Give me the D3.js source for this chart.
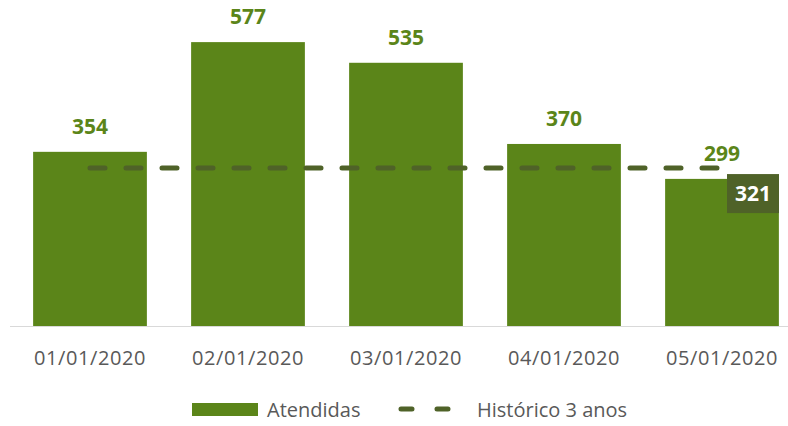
<!DOCTYPE html>
<html>
<head>
<meta charset="utf-8">
<script src="https://cdn.jsdelivr.net/npm/d3@7"></script>
<style>
  body { margin: 0; background: #fff; }
  svg { display: block; font-family: "Open Sans", Lato, sans-serif; }
</style>
</head>
<body>
<div id="chart"></div>
<script>
// chart data
var categories = ["01/01/2020", "02/01/2020", "03/01/2020", "04/01/2020", "05/01/2020"];
var atendidas = [354, 577, 535, 370, 299];
var historico = [321, 321, 321, 321, 321];
var legendLabels = ["Atendidas", "Histórico 3 anos"];

var width = 788, height = 426;
var barColor = "#5b8519";
var lineColor = "#4f6228";
var textColor = "#595959";

var svg = d3.select("#chart").append("svg")
	.attr("width", width)
	.attr("height", height);

var x = d3.scaleBand()
	.domain(categories)
	.range([11, 801])
	.paddingInner(0.28)
	.paddingOuter(0.14);

var y = d3.scaleLinear()
	.domain([0, 600])
	.range([326, 30.8]);

var g = svg.append("g");

// bars
g.selectAll("rect.bar")
	.data(atendidas)
	.enter().append("rect")
	.attr("class", "bar")
	.attr("x", function(d, i) { return x(categories[i]); })
	.attr("y", function(d) { return y(d); })
	.attr("width", x.bandwidth())
	.attr("height", function(d) { return y(0) - y(d); })
	.attr("fill", barColor);

// axis line
g.append("line")
	.attr("x1", 10)
	.attr("x2", width)
	.attr("y1", y(0) + 0.5)
	.attr("y2", y(0) + 0.5)
	.attr("stroke", "#d9d9d9")
	.attr("stroke-width", 1);

// category labels
g.selectAll("text.cat")
	.data(categories)
	.enter().append("text")
	.attr("class", "cat")
	.attr("x", function(d) { return x(d) + x.bandwidth() / 2; })
	.attr("y", 365)
	.attr("text-anchor", "middle")
	.attr("fill", textColor)
	.attr("font-size", 20)
	.attr("letter-spacing", 0.6)
	.text(function(d) { return d; });

// value labels
g.selectAll("text.val")
	.data(atendidas)
	.enter().append("text")
	.attr("class", "val")
	.attr("x", function(d, i) { return x(categories[i]) + x.bandwidth() / 2; })
	.attr("y", function(d) { return y(d) - 18; })
	.attr("text-anchor", "middle")
	.attr("fill", barColor)
	.attr("font-size", 21)
	.attr("font-weight", "bold")
	.text(function(d) { return d; });

// historical dashed line
var line = d3.line()
	.x(function(d, i) { return x(categories[i]) + x.bandwidth() / 2; })
	.y(function(d) { return y(d); });

g.append("path")
	.datum(historico)
	.attr("fill", "none")
	.attr("stroke", lineColor)
	.attr("stroke-width", 5)
	.attr("stroke-linecap", "round")
	.attr("stroke-dasharray", "15,21")
	.attr("d", line);

// label box for last historical point
var last = historico.length - 1;
var lx = x(categories[last]) + x.bandwidth() / 2;
var ly = y(historico[last]);
g.append("rect")
	.attr("x", lx + 5)
	.attr("y", ly + 6)
	.attr("width", 52)
	.attr("height", 39)
	.attr("fill", lineColor);
g.append("text")
	.attr("x", lx + 31)
	.attr("y", ly + 33)
	.attr("text-anchor", "middle")
	.attr("fill", "#fff")
	.attr("font-size", 21)
	.attr("font-weight", "bold")
	.text(historico[last]);

// legend
var lg = svg.append("g");
lg.append("rect")
	.attr("x", 192)
	.attr("y", 403)
	.attr("width", 66)
	.attr("height", 13)
	.attr("fill", barColor);
lg.append("text")
	.attr("x", 267)
	.attr("y", 417)
	.attr("fill", textColor)
	.attr("font-size", 20)
	.text(legendLabels[0]);
lg.append("line")
	.attr("x1", 401)
	.attr("x2", 455)
	.attr("y1", 409)
	.attr("y2", 409)
	.attr("stroke", lineColor)
	.attr("stroke-width", 5)
	.attr("stroke-linecap", "round")
	.attr("stroke-dasharray", "11,25");
lg.append("text")
	.attr("x", 477)
	.attr("y", 417)
	.attr("fill", textColor)
	.attr("font-size", 20)
	.text(legendLabels[1]);
</script>
</body>
</html>
